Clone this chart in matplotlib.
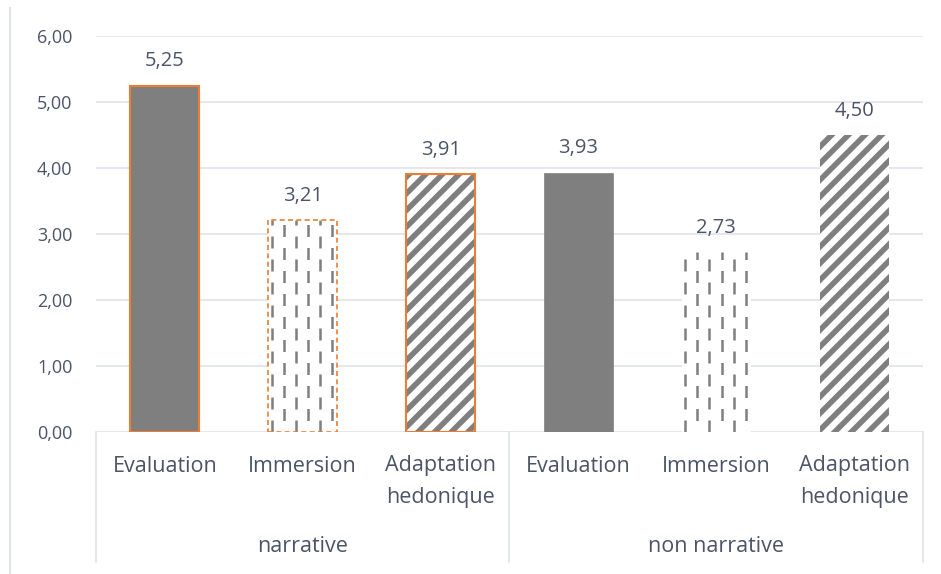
import matplotlib
matplotlib.use("Agg")
import matplotlib.pyplot as plt
import numpy as np
from matplotlib.lines import Line2D

groups = ["narrative", "non narrative"]
measures = ["Evaluation", "Immersion", "Adaptation\nhedonique"]
values = [5.25, 3.21, 3.91, 3.93, 2.73, 4.50]
value_labels = ["5,25", "3,21", "3,91", "3,93", "2,73", "4,50"]
yticks = [0, 1, 2, 3, 4, 5, 6]
ytick_labels = ["0,00", "1,00", "2,00", "3,00", "4,00", "5,00", "6,00"]

GRAY = "#7f7f7f"
ORANGE = "#ED7D31"
TXT = "#4a5568"
GRID = "#dfe3ea"

plt.rcParams["font.family"] = ["Open Sans", "DejaVu Sans"]
plt.rcParams["hatch.linewidth"] = 4.0

W, H = 941, 574
fig = plt.figure(figsize=(W / 100, H / 100), dpi=100)
x0, x1, ytop, ybot = 96, 923, 36, 432
ax = fig.add_axes([x0 / W, (H - ybot) / H, (x1 - x0) / W, (ybot - ytop) / H])

n = len(values)
xs = np.arange(n)
bw = 0.5
ax.set_xlim(-0.5, n - 0.5)
ax.set_ylim(0, 6)

for y in yticks:
    ax.axhline(y, color=GRID, lw=1.2, zorder=0)

for i, (x, v) in enumerate(zip(xs, values)):
    kind = i % 3
    narrative = i < 3
    if kind == 0:
        ax.bar(x, v, bw, color=GRAY, edgecolor=ORANGE if narrative else GRAY,
               linewidth=1.5 if narrative else 0.5, zorder=2)
    elif kind == 1:
        b = ax.bar(x, v, bw, color="white", linewidth=0, zorder=2)[0]
        offs = np.linspace(0.05, 0.93, 6)
        lw = 1.8
        for j, o in enumerate(offs):
            xx = x - bw / 2 + o * bw
            ln = Line2D([xx, xx], [0, v], color=GRAY, lw=lw,
                        linestyle=(4.6 * (j % 2), (4.8, 4.4)), zorder=3)
            ax.add_line(ln)
            ln.set_clip_path(b)
        if narrative:
            ax.bar(x, v, bw, fill=False, edgecolor=ORANGE, linewidth=1.2,
                   linestyle=(0, (3, 2)), zorder=4)
    else:
        ax.bar(x, v, bw, color="white", edgecolor=GRAY, hatch="//",
               linewidth=0, zorder=2)
        if narrative:
            ax.bar(x, v, bw, fill=False, edgecolor=ORANGE, linewidth=1.5,
                   zorder=4)
    ax.annotate(value_labels[i], (x, v), xytext=(0, 17.5), textcoords="offset points",
                ha="center", va="center", fontsize=14.5, color=TXT)

for s in ax.spines.values():
    s.set_visible(False)
ax.set_yticks(yticks)
ax.set_yticklabels(ytick_labels)
ax.tick_params(axis="y", length=0, pad=17, labelsize=13, labelcolor=TXT)
ax.set_xticks([])

tr = ax.get_xaxis_transform()
ah = ybot - ytop
for i, x in enumerate(xs):
    for k, line in enumerate(measures[i % 3].split("\n")):
        ax.text(x, -(466 + 31 * k - ybot) / ah, line, transform=tr, ha="center",
                va="center", fontsize=15.5, color=TXT)
for g, name in enumerate(groups):
    ax.text(g * 3 + 1, -(546 - ybot) / ah, name, transform=tr, ha="center",
            va="center", fontsize=15.5, color=TXT)
for xd in [-0.5, 2.5, 5.5]:
    ax.plot([xd, xd], [0, -(562 - ybot) / ah], transform=tr, color=GRID,
            lw=1.2, clip_on=False)

fig.add_artist(Line2D([9.5 / W, 9.5 / W], [0, 1 - 8 / H], transform=fig.transFigure,
                      color=GRID, lw=1.5))

fig.savefig("out.png", dpi=100)
